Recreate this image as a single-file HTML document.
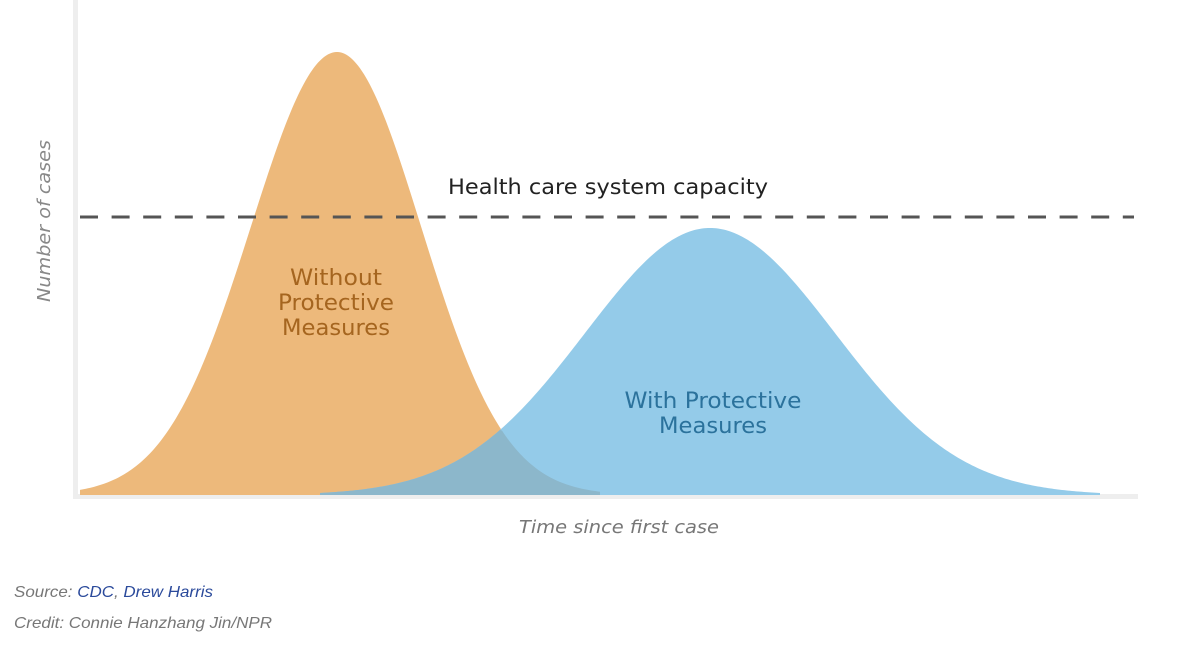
<!DOCTYPE html>
<html><head><meta charset="utf-8"><style>
html,body{margin:0;padding:0;background:#fff;width:1200px;height:652px;overflow:hidden}
svg{display:block}
</style></head><body>
<svg id="s" width="1200" height="652" viewBox="0 0 1200 652" xmlns="http://www.w3.org/2000/svg">
<defs><clipPath id="c"><rect x="78" y="200" width="1056" height="40"/></clipPath></defs>
<rect x="73" y="0" width="5" height="499" fill="#eeeeee"/>
<rect x="73" y="494" width="1065" height="5" fill="#eeeeee"/>
<path id="po" fill="#EDB97B"/>
<path id="pb" fill="#94CBE9"/>
<path id="pv" fill="#8CB7CB"/>
<line x1="80" y1="217" x2="1150" y2="217" stroke="#555" stroke-width="3" stroke-dasharray="18 13.6" clip-path="url(#c)"/>
<g font-family="DejaVu Sans, Liberation Sans, sans-serif">
<text x="448" y="194" font-size="21" fill="#222" textLength="320" lengthAdjust="spacingAndGlyphs">Health care system capacity</text>
<g fill="#A5651F" font-size="22" text-anchor="middle">
<text x="336" y="285" textLength="92" lengthAdjust="spacingAndGlyphs">Without</text>
<text x="336" y="310" textLength="116" lengthAdjust="spacingAndGlyphs">Protective</text>
<text x="336" y="335" textLength="108" lengthAdjust="spacingAndGlyphs">Measures</text>
</g>
<g fill="#2B729C" font-size="22" text-anchor="middle">
<text x="713" y="408" textLength="177" lengthAdjust="spacingAndGlyphs">With Protective</text>
<text x="713" y="433" textLength="108" lengthAdjust="spacingAndGlyphs">Measures</text>
</g>
<text x="619" y="533" font-size="18" fill="#777" font-style="italic" text-anchor="middle" textLength="200" lengthAdjust="spacingAndGlyphs">Time since first case</text>
<text transform="translate(50,221) rotate(-90)" font-size="18" fill="#888" font-style="italic" text-anchor="middle" textLength="162" lengthAdjust="spacingAndGlyphs">Number of cases</text>
</g>
<g font-family="Liberation Sans, sans-serif" font-size="16" font-style="italic">
<text x="14" y="597" fill="#777" textLength="199" lengthAdjust="spacingAndGlyphs">Source: <tspan fill="#2B4A9B">CDC</tspan>, <tspan fill="#2B4A9B">Drew Harris</tspan></text>
<text x="14" y="628" fill="#777" textLength="258" lengthAdjust="spacingAndGlyphs">Credit: Connie Hanzhang Jin/NPR</text>
</g>
</svg>
<script>
(function(){
var B=495;
function o(x){var d=x-337;var s=d<0?86:84;return 443*Math.exp(-d*d/(2*s*s));}
function b(x){var d=x-710;return 267*Math.exp(-d*d/(2*125*125));}
function path(f,x0,x1){var p="M"+x0+","+B;for(var x=x0;x<=x1;x+=2){p+=" L"+x+","+(B-f(x)).toFixed(2);}return p+" L"+x1+","+B+" Z";}
document.getElementById("po").setAttribute("d",path(o,80,600));
document.getElementById("pb").setAttribute("d",path(b,320,1100));
document.getElementById("pv").setAttribute("d",path(function(x){return Math.min(o(x),b(x));},320,600));
})();
</script>
</body></html>
